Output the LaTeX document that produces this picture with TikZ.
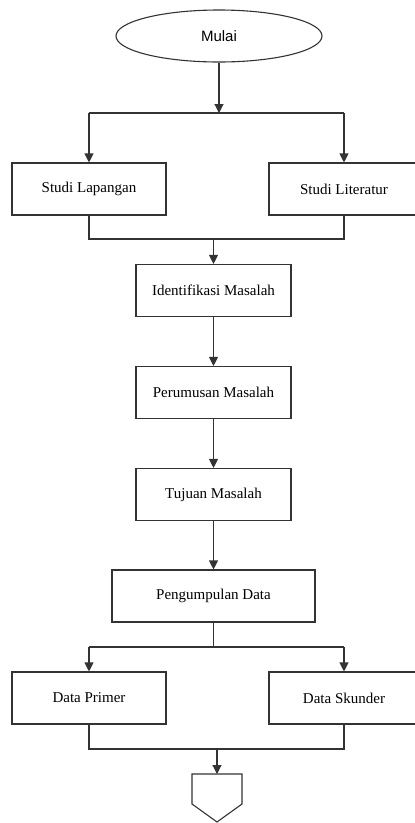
\documentclass[tikz,border=0pt]{standalone}
\usepackage{fontspec}
\setmainfont{Liberation Serif}
\newfontfamily\labelsans{Liberation Sans}
\usetikzlibrary{shapes.geometric,arrows.meta}
\begin{document}
\begin{tikzpicture}[x=1pt,y=-1pt,
  box/.style={draw=black!80,line width=1.1pt,minimum height=52pt,inner sep=0pt,font=\fontsize{15}{17}\selectfont},
  line/.style={draw=black!80,line width=1.1pt},
  arr/.style={line,-{Triangle[length=9pt,width=9pt]}}]
\useasboundingbox (0,0) rectangle (415,823);
\node[draw=black!80,line width=1.1pt,ellipse,minimum width=206pt,minimum height=52pt,inner sep=0pt,font=\labelsans\fontsize{15}{17}\selectfont] (mulai) at (219,36) {Mulai};
\node[box,minimum width=154pt] (lap) at (89,189) {Studi Lapangan};
\node[box,minimum width=150pt] (lit) at (344,189) {Studi Literatur};
\node[box,minimum width=155pt] (idm) at (213.5,290.5) {Identifikasi Masalah};
\node[box,minimum width=155pt] (pm) at (213.5,392.5) {Perumusan Masalah};
\node[box,minimum width=155pt] (tm) at (213.5,494.5) {Tujuan Masalah};
\node[box,minimum width=203pt] (pd) at (213.5,596) {Pengumpulan Data};
\node[box,minimum width=154pt] (dp) at (89,698) {Data Primer};
\node[box,minimum width=150pt] (ds) at (344,698) {Data Skunder};
\coordinate (s1) at (219,113);
\coordinate (j1) at (213.5,239);
\coordinate (s2) at (213.5,647);
\coordinate (j2) at (217,749);
\draw[arr] (mulai.south) -- (s1);
\draw[line] (lap.north |- s1) -- (lit.north |- s1);
\draw[arr] (lap.north |- s1) -- (lap.north);
\draw[arr] (lit.north |- s1) -- (lit.north);
\draw[line] (lap.south) -- (lap.south |- j1) -- (lit.south |- j1) -- (lit.south);
\draw[arr] (j1) -- (idm.north);
\draw[arr] (idm) -- (pm);
\draw[arr] (pm) -- (tm);
\draw[arr] (tm) -- (pd);
\draw[line] (pd.south) -- (s2);
\draw[line] (dp.north |- s2) -- (ds.north |- s2);
\draw[arr] (dp.north |- s2) -- (dp.north);
\draw[arr] (ds.north |- s2) -- (ds.north);
\draw[line] (dp.south) -- (dp.south |- j2) -- (ds.south |- j2) -- (ds.south);
\coordinate (off) at (217,774);
\draw[line] (192,774) -- (242,774) -- (242,804) -- (217,822) -- (192,804) -- cycle;
\draw[arr] (j2) -- (off);
\end{tikzpicture}
\end{document}
